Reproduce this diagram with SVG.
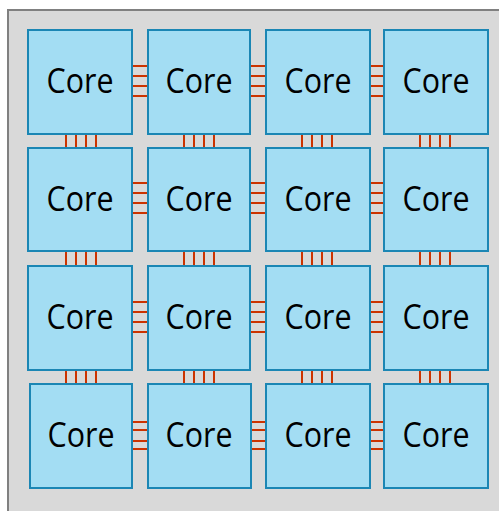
<svg xmlns="http://www.w3.org/2000/svg" width="499" height="511" viewBox="0 0 499 511">
  <style>
    .die { fill: #d9d9d9; stroke: #808080; stroke-width: 2; }
    .core rect { fill: #a3ddf3; stroke: #1b86b4; stroke-width: 2; }
    .core text { font-family: "Open Sans", "Noto Sans", sans-serif; font-size: 34px; fill: #000; text-anchor: middle; }
    .links line { stroke: #cc3300; stroke-width: 2; }
  </style>

  <!-- chip die -->
  <rect class="die" x="8" y="10" width="500" height="510"/>

  <!-- interconnect wires between neighbouring cores -->
  <g id="connectors" class="links">
    <!-- row 1, horizontal -->
    <line x1="132" y1="66" x2="148" y2="66"/><line x1="132" y1="76" x2="148" y2="76"/><line x1="132" y1="86" x2="148" y2="86"/><line x1="132" y1="96" x2="148" y2="96"/>
    <line x1="250" y1="66" x2="266" y2="66"/><line x1="250" y1="76" x2="266" y2="76"/><line x1="250" y1="86" x2="266" y2="86"/><line x1="250" y1="96" x2="266" y2="96"/>
    <line x1="370" y1="66" x2="384" y2="66"/><line x1="370" y1="76" x2="384" y2="76"/><line x1="370" y1="86" x2="384" y2="86"/><line x1="370" y1="96" x2="384" y2="96"/>
    <!-- row 2, horizontal -->
    <line x1="132" y1="183" x2="148" y2="183"/><line x1="132" y1="193" x2="148" y2="193"/><line x1="132" y1="203" x2="148" y2="203"/><line x1="132" y1="213" x2="148" y2="213"/>
    <line x1="250" y1="183" x2="266" y2="183"/><line x1="250" y1="193" x2="266" y2="193"/><line x1="250" y1="203" x2="266" y2="203"/><line x1="250" y1="213" x2="266" y2="213"/>
    <line x1="370" y1="183" x2="384" y2="183"/><line x1="370" y1="193" x2="384" y2="193"/><line x1="370" y1="203" x2="384" y2="203"/><line x1="370" y1="213" x2="384" y2="213"/>
    <!-- row 3, horizontal -->
    <line x1="132" y1="302" x2="148" y2="302"/><line x1="132" y1="312" x2="148" y2="312"/><line x1="132" y1="322" x2="148" y2="322"/><line x1="132" y1="332" x2="148" y2="332"/>
    <line x1="250" y1="302" x2="266" y2="302"/><line x1="250" y1="312" x2="266" y2="312"/><line x1="250" y1="322" x2="266" y2="322"/><line x1="250" y1="332" x2="266" y2="332"/>
    <line x1="370" y1="302" x2="384" y2="302"/><line x1="370" y1="312" x2="384" y2="312"/><line x1="370" y1="322" x2="384" y2="322"/><line x1="370" y1="332" x2="384" y2="332"/>
    <!-- row 4, horizontal -->
    <line x1="132" y1="422" x2="148" y2="422"/><line x1="132" y1="430" x2="148" y2="430"/><line x1="132" y1="441" x2="148" y2="441"/><line x1="132" y1="449" x2="148" y2="449"/>
    <line x1="250" y1="422" x2="266" y2="422"/><line x1="250" y1="430" x2="266" y2="430"/><line x1="250" y1="441" x2="266" y2="441"/><line x1="250" y1="449" x2="266" y2="449"/>
    <line x1="370" y1="422" x2="384" y2="422"/><line x1="370" y1="430" x2="384" y2="430"/><line x1="370" y1="441" x2="384" y2="441"/><line x1="370" y1="449" x2="384" y2="449"/>

    <!-- column 1, vertical -->
    <line x1="66" y1="134" x2="66" y2="148"/><line x1="76" y1="134" x2="76" y2="148"/><line x1="86" y1="134" x2="86" y2="148"/><line x1="96" y1="134" x2="96" y2="148"/>
    <line x1="66" y1="251" x2="66" y2="266"/><line x1="76" y1="251" x2="76" y2="266"/><line x1="86" y1="251" x2="86" y2="266"/><line x1="96" y1="251" x2="96" y2="266"/>
    <line x1="66" y1="370" x2="66" y2="384"/><line x1="76" y1="370" x2="76" y2="384"/><line x1="86" y1="370" x2="86" y2="384"/><line x1="96" y1="370" x2="96" y2="384"/>
    <!-- column 2, vertical -->
    <line x1="184" y1="134" x2="184" y2="148"/><line x1="194" y1="134" x2="194" y2="148"/><line x1="204" y1="134" x2="204" y2="148"/><line x1="214" y1="134" x2="214" y2="148"/>
    <line x1="184" y1="251" x2="184" y2="266"/><line x1="194" y1="251" x2="194" y2="266"/><line x1="204" y1="251" x2="204" y2="266"/><line x1="214" y1="251" x2="214" y2="266"/>
    <line x1="184" y1="370" x2="184" y2="384"/><line x1="194" y1="370" x2="194" y2="384"/><line x1="204" y1="370" x2="204" y2="384"/><line x1="214" y1="370" x2="214" y2="384"/>
    <!-- column 3, vertical -->
    <line x1="302" y1="134" x2="302" y2="148"/><line x1="312" y1="134" x2="312" y2="148"/><line x1="322" y1="134" x2="322" y2="148"/><line x1="332" y1="134" x2="332" y2="148"/>
    <line x1="302" y1="251" x2="302" y2="266"/><line x1="312" y1="251" x2="312" y2="266"/><line x1="322" y1="251" x2="322" y2="266"/><line x1="332" y1="251" x2="332" y2="266"/>
    <line x1="302" y1="370" x2="302" y2="384"/><line x1="312" y1="370" x2="312" y2="384"/><line x1="322" y1="370" x2="322" y2="384"/><line x1="332" y1="370" x2="332" y2="384"/>
    <!-- column 4, vertical -->
    <line x1="420" y1="134" x2="420" y2="148"/><line x1="430" y1="134" x2="430" y2="148"/><line x1="440" y1="134" x2="440" y2="148"/><line x1="450" y1="134" x2="450" y2="148"/>
    <line x1="420" y1="251" x2="420" y2="266"/><line x1="430" y1="251" x2="430" y2="266"/><line x1="440" y1="251" x2="440" y2="266"/><line x1="450" y1="251" x2="450" y2="266"/>
    <line x1="420" y1="370" x2="420" y2="384"/><line x1="430" y1="370" x2="430" y2="384"/><line x1="440" y1="370" x2="440" y2="384"/><line x1="450" y1="370" x2="450" y2="384"/>
  </g>

  <!-- row 1 -->
  <g id="core-1-1" class="core"><rect x="28" y="30" width="104" height="104"/><text x="80" y="93" textLength="67" lengthAdjust="spacingAndGlyphs">Core</text></g>
  <g id="core-1-2" class="core"><rect x="148" y="30" width="102" height="104"/><text x="199" y="93" textLength="67" lengthAdjust="spacingAndGlyphs">Core</text></g>
  <g id="core-1-3" class="core"><rect x="266" y="30" width="104" height="104"/><text x="318" y="93" textLength="67" lengthAdjust="spacingAndGlyphs">Core</text></g>
  <g id="core-1-4" class="core"><rect x="384" y="30" width="104" height="104"/><text x="436" y="93" textLength="67" lengthAdjust="spacingAndGlyphs">Core</text></g>
  <!-- row 2 -->
  <g id="core-2-1" class="core"><rect x="28" y="148" width="104" height="103"/><text x="80" y="211" textLength="67" lengthAdjust="spacingAndGlyphs">Core</text></g>
  <g id="core-2-2" class="core"><rect x="148" y="148" width="102" height="103"/><text x="199" y="211" textLength="67" lengthAdjust="spacingAndGlyphs">Core</text></g>
  <g id="core-2-3" class="core"><rect x="266" y="148" width="104" height="103"/><text x="318" y="211" textLength="67" lengthAdjust="spacingAndGlyphs">Core</text></g>
  <g id="core-2-4" class="core"><rect x="384" y="148" width="104" height="103"/><text x="436" y="211" textLength="67" lengthAdjust="spacingAndGlyphs">Core</text></g>
  <!-- row 3 -->
  <g id="core-3-1" class="core"><rect x="28" y="266" width="104" height="104"/><text x="80" y="329" textLength="67" lengthAdjust="spacingAndGlyphs">Core</text></g>
  <g id="core-3-2" class="core"><rect x="148" y="266" width="102" height="104"/><text x="199" y="329" textLength="67" lengthAdjust="spacingAndGlyphs">Core</text></g>
  <g id="core-3-3" class="core"><rect x="266" y="266" width="104" height="104"/><text x="318" y="329" textLength="67" lengthAdjust="spacingAndGlyphs">Core</text></g>
  <g id="core-3-4" class="core"><rect x="384" y="266" width="104" height="104"/><text x="436" y="329" textLength="67" lengthAdjust="spacingAndGlyphs">Core</text></g>
  <!-- row 4 -->
  <g id="core-4-1" class="core"><rect x="30" y="384" width="102" height="104"/><text x="81" y="447" textLength="67" lengthAdjust="spacingAndGlyphs">Core</text></g>
  <g id="core-4-2" class="core"><rect x="148" y="384" width="103" height="104"/><text x="199" y="447" textLength="67" lengthAdjust="spacingAndGlyphs">Core</text></g>
  <g id="core-4-3" class="core"><rect x="266" y="384" width="104" height="104"/><text x="318" y="447" textLength="67" lengthAdjust="spacingAndGlyphs">Core</text></g>
  <g id="core-4-4" class="core"><rect x="384" y="384" width="104" height="104"/><text x="436" y="447" textLength="67" lengthAdjust="spacingAndGlyphs">Core</text></g>
</svg>
